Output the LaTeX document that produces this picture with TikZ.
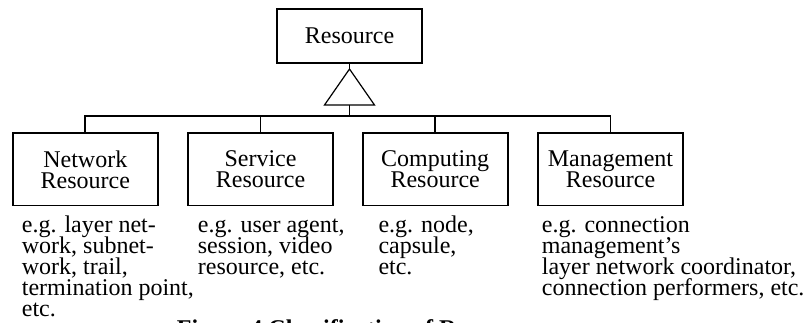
\documentclass[tikz,border=0pt]{standalone}
\usepackage{fontspec}
\setmainfont{Liberation Serif}
\newcommand\diagfont{\fontsize{24}{21}\selectfont\lineskiplimit-100pt\relax}
\begin{document}
\begin{tikzpicture}[x=1pt,y=-1pt,
  txt/.style={font=\diagfont},
  classbox/.style={draw,line width=1.8pt,rectangle,inner sep=0pt,
    minimum width=145pt,minimum height=72.5pt,align=center,txt},
  rootbox/.style={draw,line width=1.8pt,rectangle,inner sep=0pt,
    minimum width=145pt,minimum height=53.5pt,txt},
  note/.style={anchor=north west,inner sep=0pt,align=left,txt},
  link/.style={line width=1.8pt},
  gen/.style={line width=1.2pt,line join=miter}]
\useasboundingbox (0,0) rectangle (803,322);
\clip (0,0) rectangle (803,322);

% superclass
\node[rootbox] (root) at (349.5,36) {Resource};

% generalisation triangle
\coordinate (apex) at (349.5,69);
\coordinate (baseL) at (324.5,105);
\coordinate (baseR) at (374.5,105);
\coordinate (basemid) at (349.5,105);
\draw[gen] (apex) -- (baseL) -- (baseR) -- cycle;

% subclasses
\node[classbox] (net)  at (85.3,169.3)  {Network\\Resource};
\node[classbox] (serv) at (260.5,169.3) {Service\\Resource};
\node[classbox] (comp) at (435.2,169.3) {Computing\\Resource};
\node[classbox] (mgmt) at (610.5,169.3) {Management\\Resource};

% connectors
\coordinate (bar) at (349.5,116);
\draw[link] (root.south) -- (apex);
\draw[link] (basemid) -- (bar);
\draw[link] (bar) -| (net.north);
\draw[link] (bar) -| (serv.north);
\draw[link] (bar) -| (comp.north);
\draw[link] (bar) -| (mgmt.north);

% examples
\node[note] (netx) at (21.7,214.7) {\rule{0pt}{18pt}e.g. layer net-\\work, subnet-\\work, trail,\\termination point,\\etc.};
\node[note] (servx) at (197.7,214.7) {\rule{0pt}{18pt}e.g. user agent,\\session, video\\resource, etc.};
\node[note] (compx) at (378.3,214.7) {\rule{0pt}{18pt}e.g. node,\\capsule,\\etc.};
\node[note] (mgmtx) at (541.7,214.7) {\rule{0pt}{18pt}e.g. connection\\management’s\\layer network coordinator,\\connection performers, etc.};

% caption
\node[anchor=base west,inner sep=0pt,font=\fontsize{24}{21}\selectfont\bfseries] (cap) at (176.7,336.3) {Figure 4 Classification of Resources};
\end{tikzpicture}
\end{document}
